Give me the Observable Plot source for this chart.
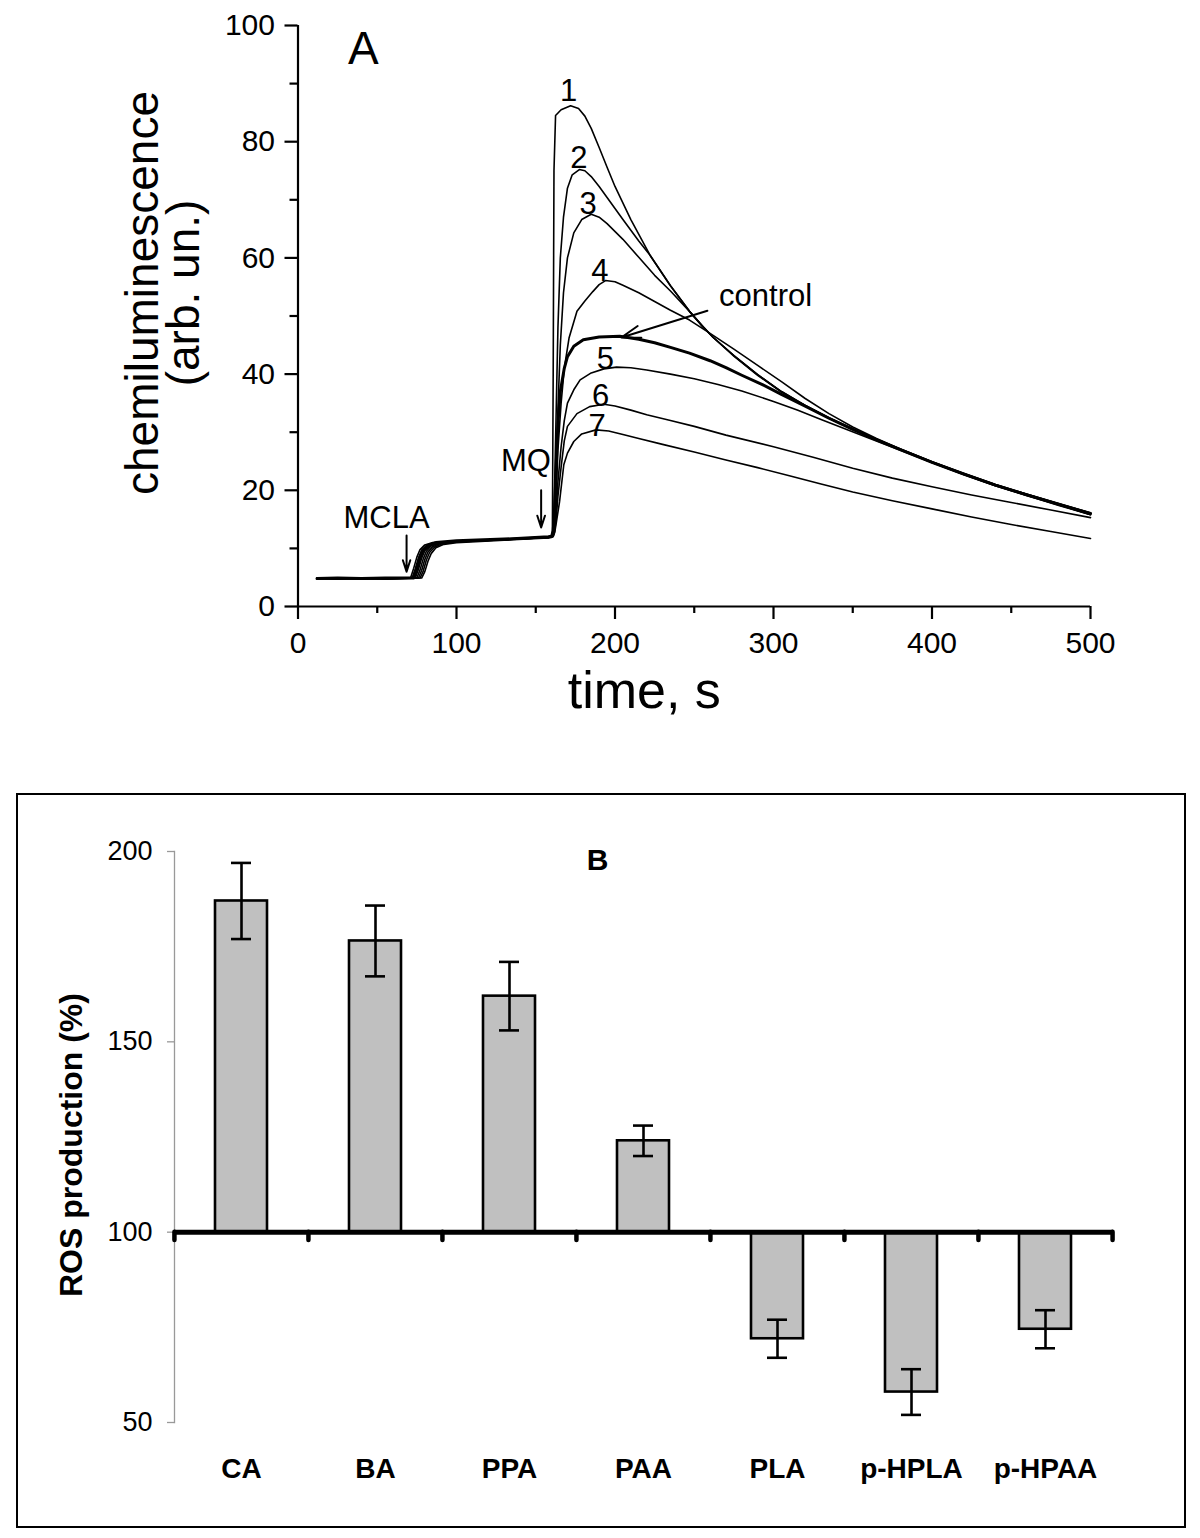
<!DOCTYPE html>
<html><head><meta charset="utf-8">
<script src="https://cdn.jsdelivr.net/npm/d3@7"></script>
<script src="https://cdn.jsdelivr.net/npm/@observablehq/plot@0.6"></script>
<style>
body{margin:0;background:#fff;font-family:Arial,"Liberation Sans",sans-serif;}
#wrap{position:relative;width:1200px;height:1538px;background:#fff;}
#a{position:absolute;left:0;top:0;}
#b{position:absolute;left:0;top:760px;}
#box{position:absolute;left:15.75px;top:792.75px;width:1170.5px;height:735.5px;border:2.5px solid #000;box-sizing:border-box;pointer-events:none;}
</style></head><body><div id="wrap"><div id="a"></div><div id="b"></div><div id="box"></div></div>
<script>
// ---------- Panel A data: [time (s), chemiluminescence] ----------
const curveControl = [[12,4.8],[25,4.9],[40,4.8],[55,4.9],[73,4.9],[75,6.5],[77,8.4],[79,9.7],[82,10.5],[87,11.0],[100,11.3],[130,11.6],[158,12.0],[160,12.1],
 [161,13],[162,17],[163,25],[164,31.5],[165.5,37],[168,41],[170,43],[174,44.8],[180,45.9],[190,46.4],[203,46.5],[215,46],[225,45.4],[235,44.6],[247,43.6],[260,42.3],[270,41.1],[280,39.8],[293,38.2],[305,36.5],[320,34.5],[335,32.4],[350,30.5],[365,28.7],[380,27],[400,24.8],[420,22.8],[440,20.9],[460,19.2],[480,17.6],[500,16]];
const curve1 = [[12,4.9],[25,4.8],[40,4.9],[55,4.8],[71,4.9],[73,6.6],[75,8.5],[77,9.8],[80,10.6],[85,11.0],[100,11.2],[130,11.6],[158,11.9],[160,12.0],
 [160.5,13],[161,40],[161.5,75],[162.5,84.5],[166,85.5],[172,86.2],[177,85.7],[181,84.4],[185,82.3],[190,79],[195,75.6],[200,72.3],[210,66.6],[222,60.5],[235,55.2],[247,50.8],[255,48.3],[262,46.3],[275,43.2],[290,39.9],[305,37],[320,34.6],[335,32.5],[350,30.6],[365,28.8],[380,27.1],[400,24.9],[420,22.9],[440,21],[460,19.3],[480,17.7],[500,16.1]];
const curve2 = [[12,4.8],[25,4.9],[40,4.7],[55,4.9],[72,4.9],[74,6.5],[76,8.4],[78,9.7],[81,10.5],[86,11.0],[100,11.2],[130,11.5],[158,12.0],[160,12.1],
 [161,13],[162,22],[163,35],[164,48],[165.5,60],[167.5,67],[170,72],[173,74.3],[177.5,75.2],[181,75],[185,74],[190,72.3],[195,70.4],[200,68.5],[205,66.6],[215,62.9],[222,60.5],[235,55.2],[247,50.8],[255,48.3],[262,46.3],[275,43.1],[290,39.8],[305,36.9],[320,34.5],[335,32.4],[350,30.5],[365,28.7],[380,27],[400,24.8],[420,22.8],[440,20.9],[460,19.2],[480,17.5],[500,15.9]];
const curve3 = [[12,4.8],[25,4.7],[40,4.9],[55,4.8],[74,4.9],[76,6.4],[78,8.3],[80,9.6],[83,10.4],[88,10.9],[100,11.2],[130,11.6],[158,12.0],[160,12.1],
 [161,12.5],[162,16],[163,24],[164,34],[165.5,45],[167.5,54],[170,60],[174,64.3],[179,66.6],[185,67.5],[190,67],[195,65.9],[205,63.2],[215,60.1],[225,57],[235,54.3],[247,50.8],[255,48.3],[262,46.3],[275,43.2],[290,39.9],[305,37],[320,34.6],[335,32.4],[350,30.5],[365,28.7],[380,27],[400,24.8],[420,22.7],[440,20.8],[460,19.1],[480,17.5],[500,15.8]];
const curve4 = [[12,4.9],[25,4.8],[40,4.8],[55,4.9],[75,4.9],[77,6.3],[79,8.2],[81,9.5],[84,10.4],[89,10.9],[100,11.2],[130,11.5],[158,11.9],[160,12.0],
 [161,12.3],[162,14.5],[163,20],[164,27],[166,35],[168,41],[171,46.2],[176,50.8],[181,52.6],[186,54.2],[190,55.4],[194,56.1],[200,55.9],[205,55.3],[215,54],[225,52.5],[235,51],[247,49.3],[260,47],[275,44.3],[290,41.5],[305,38.7],[320,35.8],[335,33.2],[350,30.9],[365,28.9],[380,27.1],[400,24.9],[420,22.9],[440,21],[460,19.3],[480,17.7],[500,16.1]];
const curve5 = [[12,4.8],[25,4.8],[40,4.9],[55,4.7],[76,4.9],[78,6.2],[80,8.1],[82,9.4],[85,10.3],[90,10.9],[100,11.1],[130,11.5],[158,11.9],[160,12.0],
 [161,12.2],[162,13.5],[163,17],[164,21.5],[166,27.5],[168,32],[170,35],[174,37.3],[178,39],[185,40.2],[193,40.9],[201,41.2],[210,41.1],[220,40.7],[235,40],[250,39.2],[265,38.2],[280,37.1],[300,35.3],[315,33.8],[330,32.2],[345,30.6],[360,29],[380,26.9],[400,24.8],[420,22.7],[440,20.8],[460,19.1],[480,17.4],[500,15.8]];
const curve6 = [[12,4.9],[25,4.8],[40,4.8],[55,4.8],[77,4.9],[79,6.1],[81,8.0],[83,9.3],[86,10.2],[91,10.8],[100,11.1],[130,11.5],[158,11.9],[160,12.0],
 [161,12.1],[162,13],[163,15.5],[164,19],[166,24],[168,28.5],[170,31],[176,33.2],[184,34.4],[193,34.8],[200,34.5],[210,33.8],[220,33],[235,32],[250,31],[270,29.5],[300,27.5],[325,25.7],[350,23.8],[375,22.1],[400,20.6],[425,19.2],[450,17.9],[475,16.6],[500,15.3]];
const curve7 = [[12,4.8],[25,4.9],[40,4.8],[55,4.8],[78,4.9],[80,6.0],[82,7.8],[84,9.1],[87,10.1],[92,10.7],[100,11.0],[130,11.4],[158,11.8],[160,11.9],
 [161,12],[162,12.8],[163,14.5],[165,18],[167.7,24.4],[170,26.4],[174,28.4],[179,29.7],[188,30.4],[196,30.2],[205,29.6],[215,28.9],[230,27.9],[250,26.6],[270,25.2],[290,23.9],[310,22.5],[330,21.1],[350,19.7],[375,18.2],[400,16.8],[425,15.4],[450,14.1],[475,12.9],[500,11.7]];

const seriesNames = ["control","1","2","3","4","5","6","7"];
const seriesData = [curveControl, curve1, curve2, curve3, curve4, curve5, curve6, curve7];

const xTicksMajor = [0,100,200,300,400,500];
const xTicksMinor = [50,150,250,350,450];
const yTicksMajor = [0,20,40,60,80,100];
const yTicksMinor = [10,30,50,70,90];

// annotation labels in data coordinates
const curveLabels = [
  {text:"1", t:170.7, v:88.7}, {text:"2", t:177.2, v:77.1}, {text:"3", t:183.1, v:69.2},
  {text:"4", t:190.4, v:57.7}, {text:"5", t:194, v:42.6}, {text:"6", t:190.9, v:36.3},
  {text:"7", t:188.8, v:31}, {text:"control", t:295, v:53.4},
  {text:"MCLA", t:55.9, v:15.2}, {text:"MQ", t:143.8, v:25}
];
const arrowsA = [
  {t1:258.3, v1:50.9, t2:204, v2:46.3},
  {t1:68.5, v1:12.2, t2:68.5, v2:6.0},
  {t1:153.4, v1:20, t2:153.4, v2:13.6}
];

// ---------- Panel B data ----------
const categories = ["CA","BA","PPA","PAA","PLA","p-HPLA","p-HPAA"];
const rosValues  = [187, 176.5, 162, 124, 72, 58, 74.5];
const rosErrors  = [10, 9.3, 9, 4, 5, 6, 5];
const yTicksB = [50,100,150,200];

// ---------- build ----------
const rows = seriesNames.flatMap((name, i) => seriesData[i].map(([t, v]) => ({name, t, v})));
const FONT = "Arial, 'Liberation Sans', sans-serif";

const WA = 1200, HA = 760, mlA = 297.5, mrA = 110, mtA = 25, mbA = 154;
const plotA = Plot.plot({
  width: WA, height: HA,
  marginLeft: mlA, marginRight: mrA, marginTop: mtA, marginBottom: mbA,
  style: {fontFamily: FONT, fontSize: "30px", color: "#000", background: "#fff", overflow: "visible"},
  x: {domain: [0, 500]},
  y: {domain: [0, 100]},
  marks: [
    Plot.axisX({ticks: xTicksMajor, tickSize: 13, tickPadding: 12, strokeWidth: 2.2, label: null}),
    Plot.axisX({ticks: xTicksMinor, tickSize: 7, tickFormat: () => "", strokeWidth: 2.2, label: null}),
    Plot.axisY({ticks: yTicksMajor, tickSize: 13, tickPadding: 10, strokeWidth: 2.2, label: null}),
    Plot.axisY({ticks: yTicksMinor, tickSize: 8, tickFormat: () => "", strokeWidth: 2.2, label: null}),
    Plot.ruleY([0], {strokeWidth: 2.2}),
    Plot.ruleX([0], {strokeWidth: 2.2}),
    Plot.line(rows.filter(d => d.name !== "control"), {x: "t", y: "v", z: "name", stroke: "#000", strokeWidth: 1.6, curve: "linear"}),
    Plot.line(rows.filter(d => d.name === "control"), {x: "t", y: "v", stroke: "#000", strokeWidth: 3, curve: "linear"}),
    Plot.arrow(arrowsA, {x1: "t1", y1: "v1", x2: "t2", y2: "v2", stroke: "#000", strokeWidth: 2, headLength: 15, headAngle: 36}),
    Plot.text(curveLabels, {x: "t", y: "v", text: "text", fontSize: 31, fill: "#000", lineAnchor: "middle"}),
    Plot.text(["A"], {x: 41.3, y: 95.9, fontSize: 46, fill: "#000", lineAnchor: "middle"}),
    Plot.text(["chemiluminescence"], {frameAnchor: "left", rotate: -90, textAnchor: "middle", lineAnchor: "bottom", dx: 157 - mlA, dy: -23, fontSize: 46, fill: "#000"}),
    Plot.text(["(arb. un.)"], {frameAnchor: "left", rotate: -90, textAnchor: "middle", lineAnchor: "bottom", dx: 198 - mlA, dy: -23, fontSize: 46, fill: "#000"}),
    Plot.text(["time, s"], {frameAnchor: "bottom", textAnchor: "middle", lineAnchor: "bottom", dx: -50, dy: 101, fontSize: 52, fill: "#000"})
  ]
});
document.getElementById("a").appendChild(plotA);

const WB = 1200, HB = 778, mlB = 174, mrB = 87, mtB = 91, mbB = 116;
const stepB = (WB - mlB - mrB) / categories.length;
const barRows = categories.map((c, i) => ({cat: c, v: rosValues[i], e: rosErrors[i], lo: rosValues[i] - rosErrors[i], hi: rosValues[i] + rosErrors[i]}));
const plotB = Plot.plot({
  width: WB, height: HB,
  marginLeft: mlB, marginRight: mrB, marginTop: mtB, marginBottom: mbB,
  style: {fontFamily: FONT, fontSize: "27px", color: "#000", background: "transparent", overflow: "visible"},
  x: {domain: categories, type: "band", paddingInner: 0.61, paddingOuter: 0.305, axis: null},
  y: {domain: [50, 200]},
  marks: [
    Plot.axisY({ticks: yTicksB, tickSize: 7, tickPadding: 15, stroke: "#999", strokeWidth: 1.3, label: null}),
    Plot.frame({anchor: "left", stroke: "#999", strokeWidth: 1.3}),
    Plot.barY(barRows, {x: "cat", y1: 100, y2: "v", fill: "#c0c0c0", stroke: "#000", strokeWidth: 2.6}),
    Plot.ruleY([100], {strokeWidth: 5, stroke: "#000"}),
    Plot.ruleX(categories, {x: d => d, y1: 100, y2: 97.8, dx: -stepB / 2, strokeWidth: 4.5, strokeLinecap: "round", stroke: "#000"}),
    Plot.ruleX(categories.slice(-1), {x: d => d, y1: 100, y2: 97.8, dx: stepB / 2, strokeWidth: 4.5, strokeLinecap: "round", stroke: "#000"}),
    Plot.ruleX(barRows, {x: "cat", y1: "lo", y2: "hi", strokeWidth: 2.6, stroke: "#000"}),
    Plot.tickY(barRows, {x: "cat", y: "hi", insetLeft: 16, insetRight: 16, strokeWidth: 2.6, stroke: "#000"}),
    Plot.tickY(barRows, {x: "cat", y: "lo", insetLeft: 16, insetRight: 16, strokeWidth: 2.6, stroke: "#000"}),
    Plot.text(categories, {x: d => d, frameAnchor: "bottom", lineAnchor: "bottom", dy: 55, fontSize: 28, fontWeight: "bold", fill: "#000"}),
    Plot.text(["B"], {frameAnchor: "top", lineAnchor: "bottom", dx: 597 - (mlB + (WB - mlB - mrB) / 2), dy: 18, fontSize: 30, fontWeight: "bold", fill: "#000"}),
    Plot.text(["ROS production (%)"], {frameAnchor: "left", rotate: -90, textAnchor: "middle", lineAnchor: "bottom", dx: 81 - mlB, dy: 8, fontSize: 32, fontWeight: "bold", fill: "#000"})
  ]
});
document.getElementById("b").appendChild(plotB);
</script></body></html>
